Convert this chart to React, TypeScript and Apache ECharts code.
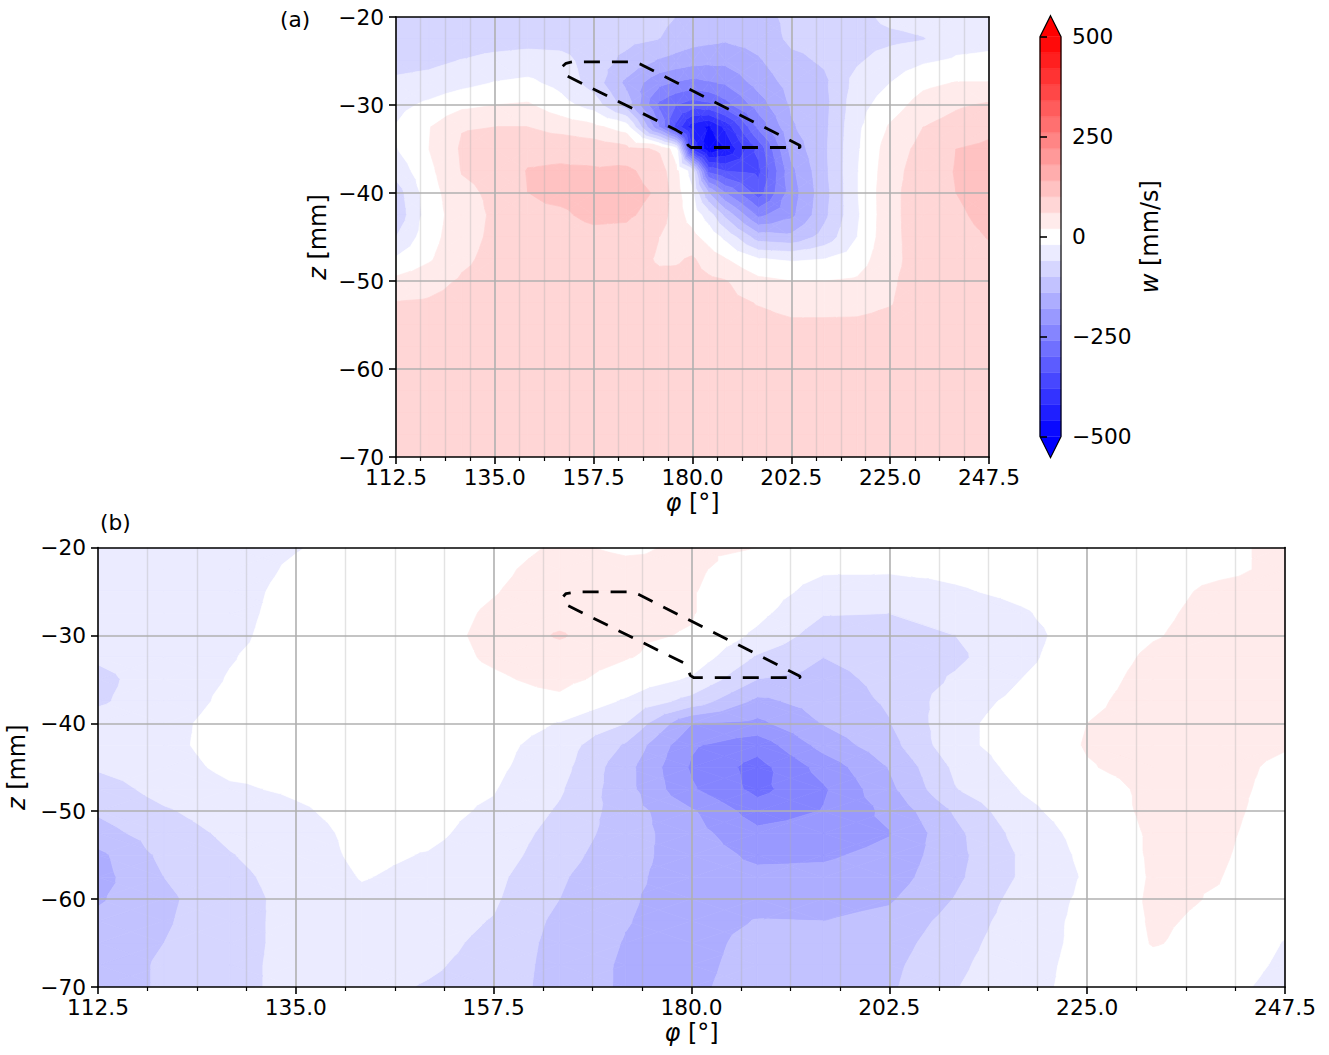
import React, { useEffect, useRef } from "react";
import * as echarts from "echarts";

const FONT = "DejaVu Sans";
const FS = 21.7; // tick labels
const FS_NAME = 24; // axis titles

// ---------- grid nodes ----------
const PHI_A = [112.5, 120, 127.5, 135, 142.5, 150, 157.5, 165, 172.5, 176.25, 180, 183.75, 187.5, 195, 202.5, 210, 217.5, 225, 232.5, 240, 247.5];
const PHI_B = [112.5, 120, 127.5, 135, 142.5, 150, 157.5, 165, 172.5, 180, 187.5, 195, 202.5, 210, 217.5, 225, 232.5, 240, 247.5];
const Z_NODES = [-20, -22.5, -25, -27.5, -30, -32.5, -35, -37.5, -40, -42.5, -45, -47.5, -50, -52.5, -55, -57.5, -60, -62.5, -65, -67.5, -70];

// ---------- w [mm/s], panel (a): rows follow Z_NODES, columns follow PHI_A ----------
const W_A_20 = [-90, -88, -85, -85, -82, -82, -85, -85, -90, -100, -115, -120, -120, -115, -90, -85, -72, -50, -45, -40, -38];
const W_A_22 = [-85, -84, -82, -78, -75, -78, -85, -90, -100, -115, -125, -130, -135, -125, -92, -88, -75, -70, -62, -35, -30];
const W_A_25 = [-75, -70, -58, -48, -42, -45, -80, -110, -145, -155, -165, -170, -170, -145, -110, -95, -65, -40, -25, -15, -12];
const W_A_27 = [-52, -45, -32, -18, -12, -32, -78, -150, -210, -225, -235, -225, -215, -165, -125, -108, -45, -20, 10, 22, 22];
const W_A_30 = [-32, -12, 10, 20, 25, -5, -38, -120, -270, -300, -320, -310, -275, -200, -135, -112, -35, 0, 38, 55, 65];
const W_A_32 = [-18, 18, 58, 60, 60, 45, 30, 0, -220, -350, -445, -465, -410, -250, -145, -110, -28, 25, 60, 75, 90];
const W_A_35 = [-22, 20, 65, 72, 88, 90, 85, 72, 55, 0, -390, -490, -460, -330, -165, -108, -25, 40, 72, 100, 108];
const W_A_37 = [-45, 10, 62, 72, 102, 105, 104, 108, 80, 30, -40, -310, -340, -350, -190, -110, -22, 45, 80, 102, 118];
const W_A_40 = [-80, 2, 50, 68, 100, 108, 112, 114, 95, 35, -15, -140, -220, -320, -200, -115, -22, 50, 80, 100, 120];
const W_A_42 = [-88, 0, 42, 66, 95, 95, 108, 106, 85, 35, 5, -40, -110, -230, -190, -110, -25, 50, 80, 92, 114];
const W_A_45 = [-60, 5, 45, 68, 92, 85, 90, 88, 60, 35, 30, 5, -30, -120, -130, -85, -20, 50, 78, 85, 102];
const W_A_47 = [-15, 15, 52, 72, 82, 80, 82, 80, 55, 55, 65, 40, 22, -18, -25, -20, 0, 50, 76, 80, 88];
const W_A_50 = [30, 45, 65, 76, 80, 80, 80, 80, 70, 72, 75, 68, 62, 30, 20, 20, 25, 55, 76, 78, 80];
const W_A_52 = [62, 65, 75, 78, 80, 80, 80, 80, 78, 78, 78, 76, 72, 58, 48, 48, 50, 58, 78, 78, 80];
const W_A_55 = [75, 76, 78, 78, 80, 80, 80, 80, 78, 78, 78, 78, 76, 72, 66, 66, 66, 70, 78, 78, 80];
const W_A_57 = [77, 78, 78, 80, 80, 80, 80, 80, 80, 80, 80, 80, 78, 76, 74, 74, 74, 76, 78, 78, 80];
const W_A_60 = [78, 78, 80, 80, 80, 80, 80, 80, 80, 80, 80, 80, 80, 78, 78, 78, 78, 78, 78, 78, 78];
const W_A_62 = [78, 78, 80, 80, 80, 80, 80, 80, 80, 80, 80, 80, 80, 80, 78, 78, 78, 78, 78, 78, 78];
const W_A_65 = [78, 78, 80, 80, 80, 80, 80, 80, 80, 80, 80, 80, 80, 80, 78, 78, 78, 78, 78, 78, 78];
const W_A_67 = [78, 78, 80, 80, 80, 80, 80, 80, 80, 80, 80, 80, 80, 80, 78, 78, 78, 78, 78, 78, 78];
const W_A_70 = [78, 78, 80, 80, 80, 80, 80, 80, 80, 80, 80, 80, 80, 80, 78, 78, 78, 78, 78, 78, 78];
const W_A = [W_A_20, W_A_22, W_A_25, W_A_27, W_A_30, W_A_32, W_A_35, W_A_37, W_A_40, W_A_42, W_A_45, W_A_47, W_A_50, W_A_52, W_A_55, W_A_57, W_A_60, W_A_62, W_A_65, W_A_67, W_A_70];

// ---------- w [mm/s], panel (b): rows follow Z_NODES, columns follow PHI_B ----------
const W_B_20 = [-40, -35, -35, -22, -5, 0, 5, 25, 15, 25, 20, 5, 0, 0, 5, 5, 10, 15, 25];
const W_B_22 = [-40, -35, -35, -15, -3, 0, 12, 35, 28, 25, 5, -15, -15, -10, 0, 5, 10, 15, 25];
const W_B_25 = [-40, -38, -32, -10, 0, 2, 18, 38, 30, 22, 0, -35, -40, -25, -10, 5, 12, 25, 28];
const W_B_27 = [-40, -40, -30, -8, 0, 5, 25, 40, 28, 22, -10, -58, -60, -45, -25, 3, 15, 28, 30];
const W_B_30 = [-45, -40, -28, -5, 0, 8, 28, 65, 25, 18, -28, -80, -75, -60, -35, 2, 18, 30, 30];
const W_B_32 = [-55, -40, -22, -5, 0, 5, 25, 38, 22, 5, -65, -100, -85, -68, -30, 5, 25, 32, 30];
const W_B_35 = [-70, -40, -18, -5, 0, 3, 15, 30, 5, -25, -100, -112, -90, -55, -20, 8, 30, 32, 30];
const W_B_37 = [-65, -40, -12, -5, 0, 0, 5, 12, -25, -75, -150, -122, -95, -38, -10, 14, 32, 32, 30];
const W_B_40 = [-45, -32, -5, -5, 0, 0, 0, -22, -60, -178, -190, -138, -102, -32, 0, 20, 32, 30, 28];
const W_B_42 = [-45, -30, -5, -8, 0, -2, -8, -38, -105, -215, -245, -165, -115, -32, 0, 22, 30, 30, 22];
const W_B_45 = [-55, -35, -12, -10, -2, -5, -12, -45, -125, -225, -275, -205, -138, -52, -5, 18, 30, 28, 15];
const W_B_47 = [-80, -45, -25, -15, -5, -8, -18, -55, -125, -215, -272, -225, -150, -62, -18, 5, 28, 28, 12];
const W_B_50 = [-95, -65, -40, -25, -8, -10, -25, -65, -120, -175, -240, -218, -170, -95, -30, 0, 28, 28, 8];
const W_B_52 = [-115, -80, -52, -35, -10, -12, -35, -75, -120, -165, -210, -200, -182, -110, -45, -5, 25, 26, 5];
const W_B_55 = [-150, -90, -62, -40, -12, -22, -40, -85, -125, -160, -188, -185, -170, -112, -55, -10, 25, 24, 2];
const W_B_57 = [-155, -100, -70, -45, -18, -30, -50, -95, -130, -160, -170, -170, -160, -108, -55, -15, 24, 21, 0];
const W_B_60 = [-145, -108, -75, -48, -28, -38, -55, -100, -135, -158, -158, -155, -145, -98, -45, -12, 26, 18, -5];
const W_B_62 = [-130, -105, -72, -50, -40, -45, -62, -110, -138, -158, -138, -140, -128, -85, -40, -10, 24, 14, -12];
const W_B_65 = [-120, -100, -72, -50, -45, -50, -68, -115, -142, -158, -125, -125, -118, -75, -38, -10, 22, 10, -22];
const W_B_67 = [-120, -95, -70, -50, -48, -56, -70, -118, -145, -155, -120, -118, -110, -68, -35, -8, 10, 4, -28];
const W_B_70 = [-120, -95, -70, -50, -52, -62, -72, -120, -145, -150, -118, -112, -106, -62, -32, -8, 5, -5, -35];
const W_B = [W_B_20, W_B_22, W_B_25, W_B_27, W_B_30, W_B_32, W_B_35, W_B_37, W_B_40, W_B_42, W_B_45, W_B_47, W_B_50, W_B_52, W_B_55, W_B_57, W_B_60, W_B_62, W_B_65, W_B_67, W_B_70];

// ---------- contour levels and ticks ----------
const LEVELS = [-500, -460, -420, -380, -340, -300, -260, -220, -180, -140, -100, -60, -20, 20, 60, 100, 140, 180, 220, 260, 300, 340, 380, 420, 460, 500];
const PHI_TICKS = [112.5, 135, 157.5, 180, 202.5, 225, 247.5];
const Z_TICKS = [-70, -60, -50, -40, -30, -20];
const CBAR_TICKS = [-500, -250, 0, 250, 500];

// ---------- dashed outline (phi, z) ----------
const DASH_A = [
  [151.59, -26.74], [176.4, -32.88], [177.84, -33.3], [178.68, -34.01], [178.97, -34.55], [179.66, -34.83],
  [204.47, -34.83], [204.47, -34.6], [168.05, -25.34], [166.68, -25.11], [152.57, -25.11], [151.2, -25.26], [150.45, -25.6],
];
const DASH_B = [
  [165.99, -26.64], [179.07, -33.1], [179.64, -34.04], [179.88, -34.58], [180.28, -34.81],
  [192.34, -34.81], [192.34, -34.64], [173.95, -25.32], [173.01, -25.05], [166.94, -25.05], [165.73, -25.24], [165.42, -25.58],
];

// ---------- colour helpers ----------
function bwr(t: number): string {
  const tt = Math.max(0, Math.min(1, t));
  if (tt <= 0.5) {
    const c = Math.round(510 * tt);
    return `rgb(${c},${c},255)`;
  }
  const c = Math.round(510 * (1 - tt));
  return `rgb(255,${c},${c})`;
}
const NB = LEVELS.length - 1;
const LMIN = LEVELS[0];
const LMAX = LEVELS[NB];
const BAND_COLORS = LEVELS.slice(0, NB).map((l, k) => bwr(((l + LEVELS[k + 1]) / 2 - LMIN) / (LMAX - LMIN)));
const UNDER = bwr(0);
const OVER = bwr(1);
function colorOf(k: number) {
  return k < 0 ? UNDER : k >= NB ? OVER : BAND_COLORS[k];
}
function bandOf(v: number) {
  if (v < LMIN) return -1;
  for (let k = 0; k < NB; k++) if (v < LEVELS[k + 1]) return k;
  return NB;
}

type P = [number, number, number];
function clipPoly(poly: P[], level: number, keepAbove: boolean): P[] {
  const out: P[] = [];
  const n = poly.length;
  const inside = (p: P) => (keepAbove ? p[2] >= level : p[2] <= level);
  for (let m = 0; m < n; m++) {
    const a = poly[m];
    const b = poly[(m + 1) % n];
    const ia = inside(a);
    const ib = inside(b);
    if (ia) out.push(a);
    if (ia !== ib) {
      const t = (level - a[2]) / (b[2] - a[2]);
      out.push([a[0] + t * (b[0] - a[0]), a[1] + t * (b[1] - a[1]), level]);
    }
  }
  return out;
}

function makeContourRenderer(phis: number[], w: number[][]) {
  return (params: any, api: any) => {
    const i = api.value(2) as number;
    const j = api.value(3) as number;
    const pt = (ii: number, jj: number): P => {
      const c = api.coord([phis[ii], Z_NODES[jj]]);
      return [c[0], c[1], w[jj][ii]];
    };
    const a = pt(i, j), b = pt(i + 1, j), c = pt(i + 1, j + 1), d = pt(i, j + 1);
    const children: any[] = [];
    const push = (poly: P[], k: number) => {
      if (poly.length < 3) return;
      const col = colorOf(k);
      children.push({
        type: "polygon",
        shape: { points: poly.map((p) => [p[0], p[1]]) },
        style: { fill: col, stroke: col, lineWidth: 0.7 },
      });
    };
    const ks = [a, b, c, d].map((p) => bandOf(p[2]));
    if (ks.every((k) => k === ks[0])) {
      push([a, b, c, d], ks[0]);
      return { type: "group", children };
    }
    const m: P = [
      (a[0] + b[0] + c[0] + d[0]) / 4,
      (a[1] + b[1] + c[1] + d[1]) / 4,
      (a[2] + b[2] + c[2] + d[2]) / 4,
    ];
    const tris: P[][] = [[a, b, m], [b, c, m], [c, d, m], [d, a, m]];
    for (const tri of tris) {
      const vs = tri.map((p) => p[2]);
      const k0 = bandOf(Math.min(...vs));
      const k1 = bandOf(Math.max(...vs));
      for (let k = k0; k <= k1; k++) {
        let poly = tri;
        if (k >= 0) poly = clipPoly(poly, LEVELS[k], true);
        if (k < NB) poly = clipPoly(poly, LEVELS[k + 1], false);
        push(poly, k);
      }
    }
    return { type: "group", children };
  };
}

function cells(phis: number[]) {
  const out: number[][] = [];
  for (let j = 0; j < Z_NODES.length - 1; j++)
    for (let i = 0; i < phis.length - 1; i++)
      out.push([(phis[i] + phis[i + 1]) / 2, (Z_NODES[j] + Z_NODES[j + 1]) / 2, i, j]);
  return out;
}

const minus = (v: number) => (v < 0 ? "\u2212" + String(-v) : String(v));
const txt = { fontFamily: FONT, fontSize: FS, color: "#000", lineHeight: 18 };
const nameTxt = { fontFamily: FONT, fontSize: FS_NAME, color: "#000" };
const italicRich = { i: { fontFamily: FONT, fontSize: FS_NAME, color: "#000", fontStyle: "italic" } };

function phiAxis(gridIndex: number, nameGap: number) {
  return {
    gridIndex,
    type: "value",
    position: "bottom",
    min: PHI_TICKS[0],
    max: PHI_TICKS[PHI_TICKS.length - 1],
    interval: PHI_TICKS[1] - PHI_TICKS[0],
    z: 10,
    axisLine: { show: true, onZero: false, lineStyle: { color: "#000", width: 1.6 } },
    axisTick: { show: true, inside: false, length: 7, lineStyle: { color: "#000", width: 1.6 } },
    minorTick: { show: true, splitNumber: 4, length: 4, lineStyle: { color: "#000", width: 1.2 } },
    splitLine: { show: true, showMinLine: false, showMaxLine: false, lineStyle: { color: "#b0b0b0", width: 1.6 } },
    minorSplitLine: { show: true, lineStyle: { color: "rgba(176,176,176,0.35)", width: 1.4 } },
    axisLabel: { ...txt, margin: 11, showMinLabel: true, showMaxLabel: true, formatter: (v: number) => v.toFixed(1) },
    name: "{i|\u03c6} [\u00b0]",
    nameLocation: "middle",
    nameGap,
    nameTextStyle: { ...nameTxt, rich: italicRich },
  };
}
function zAxis(gridIndex: number, nameGap: number) {
  return {
    gridIndex,
    type: "value",
    position: "left",
    min: Z_TICKS[0],
    max: Z_TICKS[Z_TICKS.length - 1],
    interval: Z_TICKS[1] - Z_TICKS[0],
    z: 10,
    axisLine: { show: true, onZero: false, lineStyle: { color: "#000", width: 1.6 } },
    axisTick: { show: true, inside: false, length: 7, lineStyle: { color: "#000", width: 1.6 } },
    splitLine: { show: true, showMinLine: false, showMaxLine: false, lineStyle: { color: "#b0b0b0", width: 1.6 } },
    axisLabel: { ...txt, margin: 12, showMinLabel: true, showMaxLabel: true, formatter: (v: number) => minus(v) },
    name: "{i|z} [mm]",
    nameLocation: "middle",
    nameRotate: 90,
    nameGap,
    nameTextStyle: { ...nameTxt, rich: italicRich },
  };
}
function spineX(gridIndex: number) {
  return {
    gridIndex, type: "value", position: "top", min: PHI_TICKS[0], max: PHI_TICKS[PHI_TICKS.length - 1], z: 10,
    axisLine: { show: true, onZero: false, lineStyle: { color: "#000", width: 1.6 } },
    axisTick: { show: false }, axisLabel: { show: false }, splitLine: { show: false },
  };
}
function spineY(gridIndex: number) {
  return {
    gridIndex, type: "value", position: "right", min: Z_TICKS[0], max: Z_TICKS[Z_TICKS.length - 1], z: 10,
    axisLine: { show: true, onZero: false, lineStyle: { color: "#000", width: 1.6 } },
    axisTick: { show: false }, axisLabel: { show: false }, splitLine: { show: false },
  };
}

const TRI = 21;

export default function App() {
  const ref = useRef<HTMLDivElement>(null);
  useEffect(() => {
    if (!ref.current) return;
    const chart = echarts.init(ref.current, undefined, { renderer: "svg" });
    const cbarItems: number[][] = [];
    for (let k = -1; k <= NB; k++) {
      const mid = k < 0 ? LMIN : k >= NB ? LMAX : (LEVELS[k] + LEVELS[k + 1]) / 2;
      cbarItems.push([0.5, mid, k]);
    }
    const option: any = {
      animation: false,
      backgroundColor: "#fff",
      textStyle: { fontFamily: FONT },
      grid: [
        { left: 396, top: 17, width: 593, height: 440, containLabel: false, outerBoundsMode: "none" },
        { left: 98, top: 547.5, width: 1187, height: 439.5, containLabel: false, outerBoundsMode: "none" },
        { left: 1040, top: 36.7, width: 21, height: 400, containLabel: false, outerBoundsMode: "none" },
      ],
      xAxis: [
        phiAxis(0, 34),
        spineX(0),
        phiAxis(1, 34),
        spineX(1),
        { gridIndex: 2, type: "value", min: 0, max: 1, show: false },
      ],
      yAxis: [
        zAxis(0, 66),
        spineY(0),
        zAxis(1, 63),
        spineY(1),
        {
          gridIndex: 2,
          type: "value",
          position: "right",
          min: CBAR_TICKS[0],
          max: CBAR_TICKS[CBAR_TICKS.length - 1],
          interval: CBAR_TICKS[1] - CBAR_TICKS[0],
          z: 10,
          axisLine: { show: false },
          axisTick: { show: true, inside: false, length: 7, lineStyle: { color: "#000", width: 1.6 } },
          splitLine: { show: false },
          axisLabel: { ...txt, margin: 11, showMinLabel: true, showMaxLabel: true, formatter: (v: number) => minus(v) },
          name: "{i|w} [mm/s]",
          nameLocation: "middle",
          nameRotate: 90,
          nameGap: 77,
          nameTextStyle: { ...nameTxt, rich: italicRich },
        },
      ],
      series: [
        {
          type: "custom",
          coordinateSystem: "cartesian2d",
          xAxisIndex: 0,
          yAxisIndex: 0,
          clip: true,
          silent: true,
          z: 1,
          renderItem: makeContourRenderer(PHI_A, W_A),
          data: cells(PHI_A),
        },
        {
          type: "custom",
          coordinateSystem: "cartesian2d",
          xAxisIndex: 2,
          yAxisIndex: 2,
          clip: true,
          silent: true,
          z: 1,
          renderItem: makeContourRenderer(PHI_B, W_B),
          data: cells(PHI_B),
        },
        {
          type: "line",
          xAxisIndex: 0,
          yAxisIndex: 0,
          data: DASH_A,
          symbol: "none",
          showSymbol: false,
          silent: true,
          z: 20,
          lineStyle: { color: "#000", width: 2.8, type: [16, 12] },
        },
        {
          type: "line",
          xAxisIndex: 2,
          yAxisIndex: 2,
          data: DASH_B,
          symbol: "none",
          showSymbol: false,
          silent: true,
          z: 20,
          lineStyle: { color: "#000", width: 2.8, type: [16, 12] },
        },
        {
          type: "custom",
          coordinateSystem: "cartesian2d",
          xAxisIndex: 4,
          yAxisIndex: 4,
          clip: false,
          silent: true,
          z: 2,
          data: cbarItems,
          renderItem: (params: any, api: any) => {
            const k = api.value(2) as number;
            const p0 = api.coord([0, LMIN]);
            const p1 = api.coord([1, LMAX]);
            const xl = p0[0], xr = p1[0];
            if (k < 0) {
              return { type: "polygon", shape: { points: [[xl, p0[1]], [xr, p0[1]], [(xl + xr) / 2, p0[1] + TRI]] }, style: { fill: UNDER } };
            }
            if (k >= NB) {
              return { type: "polygon", shape: { points: [[xl, p1[1]], [xr, p1[1]], [(xl + xr) / 2, p1[1] - TRI]] }, style: { fill: OVER } };
            }
            const lo = api.coord([0, LEVELS[k]]);
            const hi = api.coord([1, LEVELS[k + 1]]);
            const col = colorOf(k);
            return {
              type: "rect",
              shape: { x: lo[0], y: hi[1], width: hi[0] - lo[0], height: lo[1] - hi[1] },
              style: { fill: col, stroke: col, lineWidth: 0.5 },
            };
          },
        },
        {
          type: "custom",
          coordinateSystem: "cartesian2d",
          xAxisIndex: 4,
          yAxisIndex: 4,
          clip: false,
          silent: true,
          z: 5,
          data: [[0.5, 0]],
          renderItem: (params: any, api: any) => {
            const p0 = api.coord([0, LMIN]);
            const p1 = api.coord([1, LMAX]);
            const xl = p0[0], xr = p1[0], xm = (xl + xr) / 2;
            return {
              type: "polygon",
              shape: { points: [[xm, p1[1] - TRI], [xr, p1[1]], [xr, p0[1]], [xm, p0[1] + TRI], [xl, p0[1]], [xl, p1[1]]] },
              style: { fill: "none", stroke: "#000", lineWidth: 1.2 },
            };
          },
        },
      ],
      graphic: [
        { type: "text", left: 280, top: 8, style: { text: "(a)", fontFamily: FONT, fontSize: FS, fill: "#000" } },
        { type: "text", left: 100, top: 511, style: { text: "(b)", fontFamily: FONT, fontSize: FS, fill: "#000" } },
      ],
    };
    chart.setOption(option);
    return () => chart.dispose();
  }, []);
  return (
    <div
      ref={ref}
      style={{ position: "absolute", left: 0, top: 0, width: 1329, height: 1055, background: "#fff" }}
    />
  );
}
